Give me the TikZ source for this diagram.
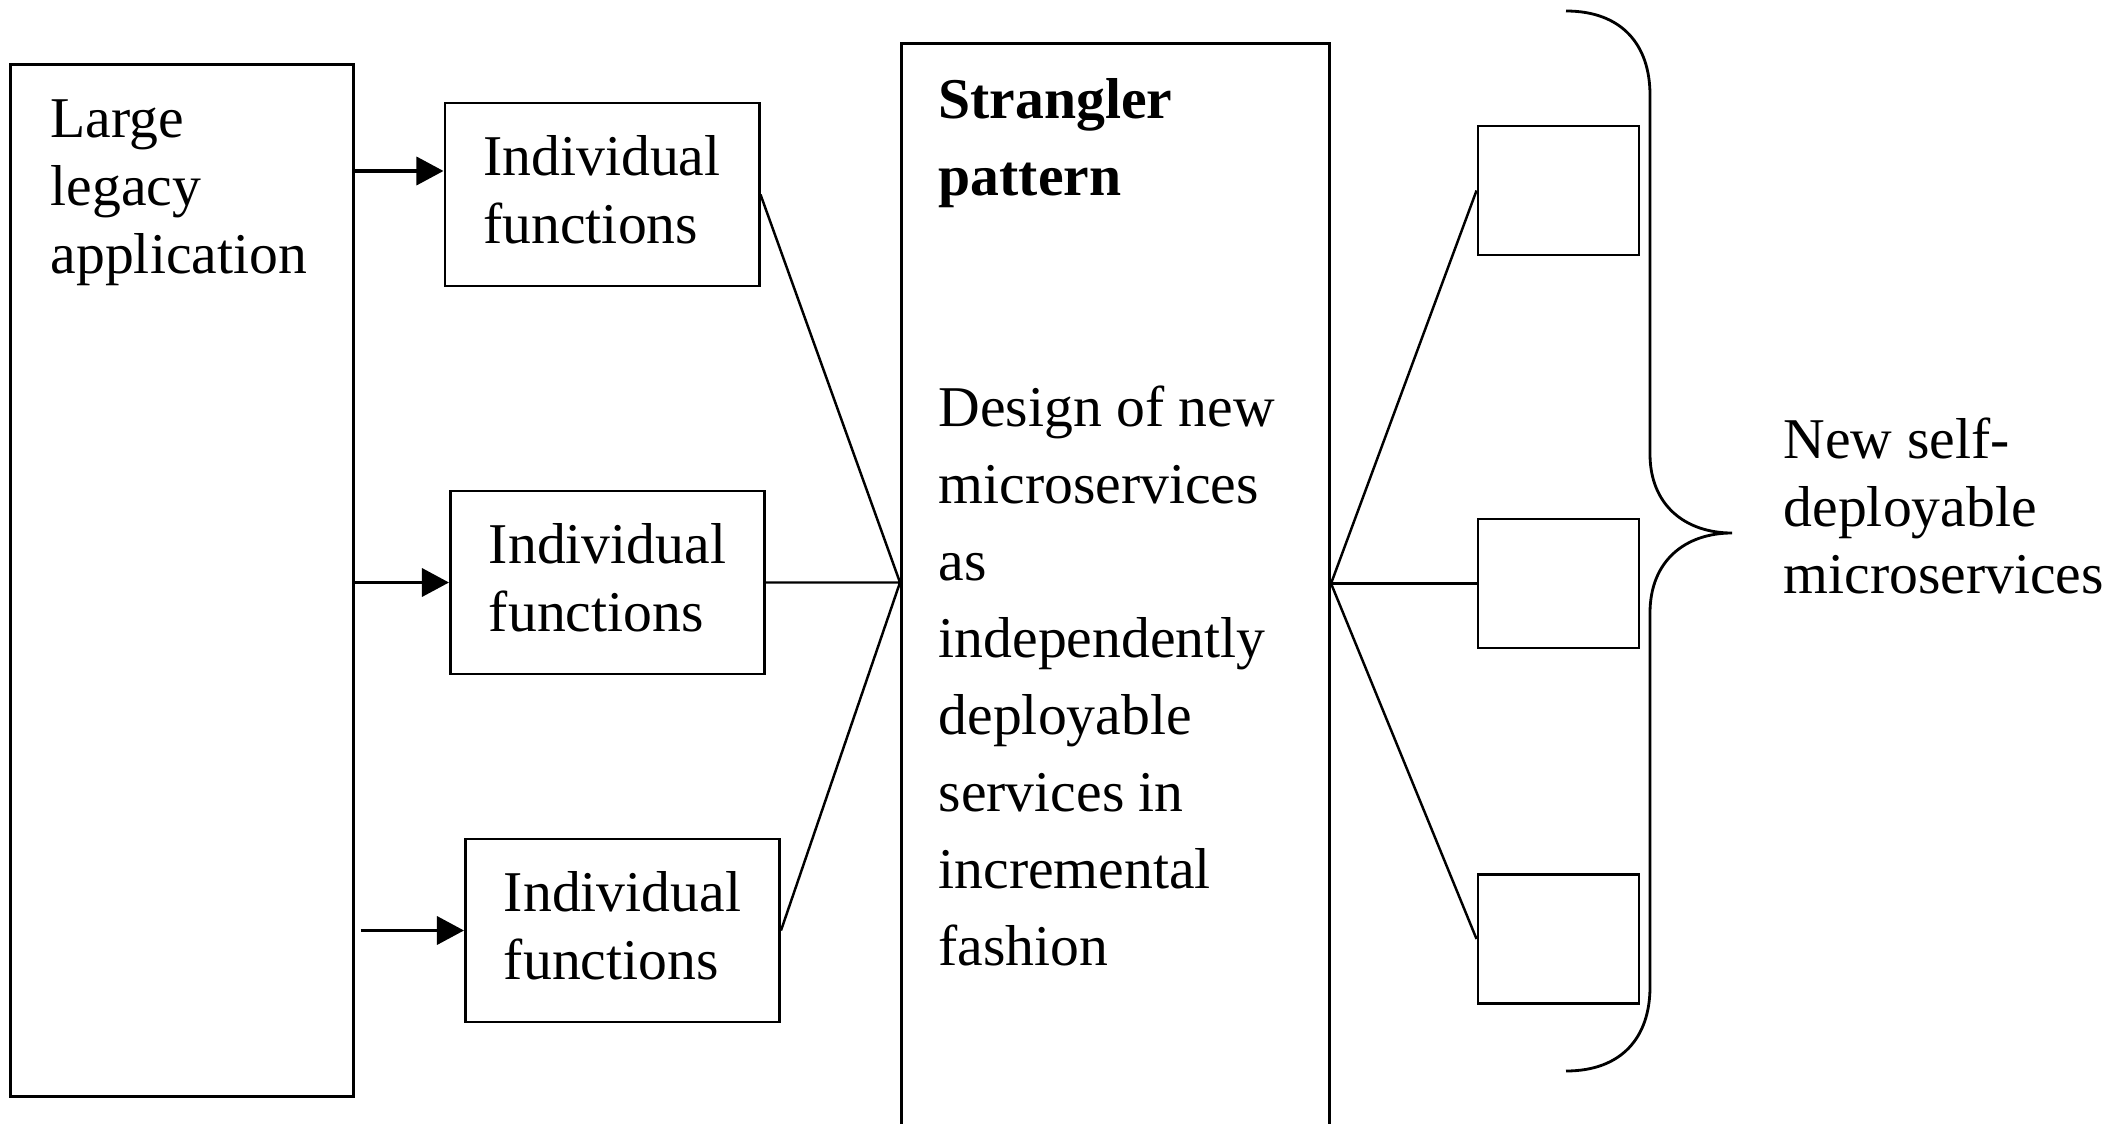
\documentclass[tikz,border=0pt]{standalone}
\usepackage{fontspec}
\setmainfont{Liberation Serif}
\usetikzlibrary{arrows.meta}
\tikzset{
  box/.style={draw, line width=0.8pt, inner sep=0pt, align=left},
  txt/.style={inner sep=0pt, align=left},
  arr/.style={line width=1pt, -{Triangle[length=0.27cm,width=0.28cm]}},
  con/.style={line width=0.7pt}
}
\begin{document}
\begin{tikzpicture}[x=0.01cm, y=-0.01cm, font=\fontsize{16.4}{19.3}\selectfont]
      \useasboundingbox (0,0) rectangle (2126,1124);
      \node[box, minimum width=3.42cm, minimum height=10.31cm] (app) at (182,580.5) {};
      \node[txt, anchor=north west] (apptxt) at (50,99) {Large\\legacy\\application};
      \node[box, minimum width=3.14cm, minimum height=1.83cm] (fa) at (602,194.5) {Individual\\functions\rule[-0.1cm]{0pt}{0pt}};
      \node[box, minimum width=3.14cm, minimum height=1.83cm] (fb) at (607.5,582.5) {Individual\\functions\rule[-0.1cm]{0pt}{0pt}};
      \node[box, minimum width=3.14cm, minimum height=1.83cm] (fc) at (622.5,930.5) {Individual\\functions\rule[-0.1cm]{0pt}{0pt}};
      \node[box, anchor=north west, minimum width=4.28cm, minimum height=11.1cm] (sp) at (900,42) {};
      \node[txt, anchor=north west, font=\fontsize{16.4}{21.9}\selectfont] (sptxt) at (938,78)
            {\textbf{Strangler}\\\textbf{pattern}\\[43.8pt]Design of new\\microservices\\as\\independently\\deployable\\services in\\incremental\\fashion};
      \node[box, minimum width=1.61cm, minimum height=1.29cm] (ma) at (1558.5,190.5) {};
      \node[box, minimum width=1.61cm, minimum height=1.29cm] (mb) at (1558.5,583.5) {};
      \node[box, minimum width=1.61cm, minimum height=1.29cm] (mc) at (1558.5,939) {};
      \node[txt, anchor=west] (nsm) at (1783,506) {New self-\\deployable\\microservices};
      \coordinate (a1) at ([yshift=0.235cm]fa.west);
      \coordinate (lhub) at (sp.west |- fb.east);
      \coordinate (rhub) at (sp.east |- mb.west);
      \draw[arr] (app.east |- a1) -- (a1);
      \draw[arr] (app.east |- fb.west) -- (fb.west);
      \draw[arr] ([xshift=0.06cm]app.east |- fc.west) -- (fc.west);
      \draw[con] (fa.east) -- (lhub) (fb.east) -- (lhub) (fc.east) -- (lhub);
      \draw[con] (rhub) edge (ma.west) (rhub) edge (mb.west) (rhub) edge (mc.west);
      \draw[line width=0.8pt] (1566,11) .. controls (1622,11) and (1650,45) .. (1650,95) -- (1650,454)
            .. controls (1650,505) and (1685,533) .. (1732,533)
            .. controls (1685,533) and (1650,561) .. (1650,613) -- (1650,987)
            .. controls (1650,1037) and (1622,1071) .. (1566,1071);
\end{tikzpicture}
\end{document}
